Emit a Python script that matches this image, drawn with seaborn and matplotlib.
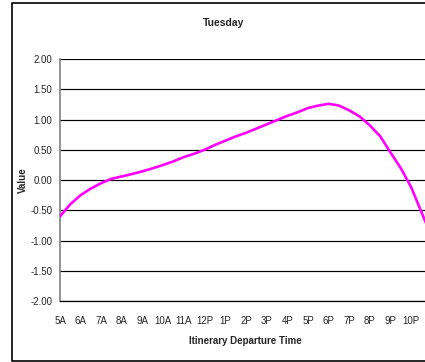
import matplotlib
matplotlib.use("Agg")
import matplotlib.pyplot as plt
from matplotlib.lines import Line2D
import seaborn as sns
import pandas as pd

# --- data (half-hour readings) ---
hours = [5.0, 5.5, 6.0, 6.5, 7.0, 7.5, 8.0, 8.5, 9.0, 9.5, 10.0, 10.5, 11.0, 11.5,
         12.0, 12.5, 13.0, 13.5, 14.0, 14.5, 15.0, 15.5, 16.0, 16.5, 17.0, 17.5,
         18.0, 18.5, 19.0, 19.5, 20.0, 20.5, 21.0, 21.5, 22.0, 22.5, 23.0]
values = [-0.60, -0.40, -0.25, -0.14, -0.05, 0.02, 0.06, 0.10, 0.145, 0.195, 0.25,
          0.31, 0.38, 0.435, 0.50, 0.58, 0.65, 0.72, 0.78, 0.85, 0.92, 0.99, 1.06,
          1.12, 1.19, 1.23, 1.26, 1.23, 1.15, 1.05, 0.90, 0.72, 0.45, 0.19, -0.125,
          -0.54, -0.95]
tick_hours = list(range(5, 23))
tick_labels = ["5A", "6A", "7A", "8A", "9A", "10A", "11A", "12P", "1P", "2P", "3P",
               "4P", "5P", "6P", "7P", "8P", "9P", "10P"]
y_ticks = [2.0, 1.5, 1.0, 0.5, 0.0, -0.5, -1.0, -1.5, -2.0]
title = "Tuesday"
x_title = "Itinerary Departure Time"
y_title = "Value"

sns.set_style("white")
plt.rcParams["font.family"] = ["Liberation Sans Narrow", "Liberation Sans", "DejaVu Sans"]

W, H = 425, 362
fig = plt.figure(figsize=(W / 100, H / 100), dpi=100)
fig.patch.set_facecolor("white")

# axes (plot area extends slightly past the right edge, as in the reference)
ax = fig.add_axes([60 / W, 1 - 301 / H, 372 / W, 242 / H])
df = pd.DataFrame({"hour": hours, "value": values})
sns.lineplot(data=df, x="hour", y="value", ax=ax, color="#FF00FF", lw=1.9, zorder=3)

ax.set_xlim(5, 23)
ax.set_ylim(-2.0, 2.0)
ax.set_yticks(y_ticks)
ax.set_yticklabels([f"{v:.2f}" for v in y_ticks])
ax.set_xticks(tick_hours)
ax.set_xticklabels(tick_labels)
ax.set_xlabel("")
ax.set_ylabel("")

for v in y_ticks:
    ax.axhline(v, color="black", lw=0.85, zorder=1)

for s in ["top", "right"]:
    ax.spines[s].set_visible(False)
ax.spines["left"].set_color("#808080")
ax.spines["left"].set_linewidth(1.2)
ax.spines["bottom"].set_color("black")
ax.spines["bottom"].set_linewidth(0.9)

ax.tick_params(axis="y", length=2.5, width=0.8, color="#808080", pad=3, labelsize=7)
ax.tick_params(axis="x", length=0, pad=11, labelsize=7)

fig.text(224 / W, 1 - 23 / H, title, ha="center", va="center", fontsize=7.5,
         fontweight="bold")
fig.text(245 / W, 1 - 341 / H, x_title, ha="center", va="center", fontsize=7,
         fontweight="bold")
fig.text(23 / W, 1 - 180 / H, y_title, ha="center", va="center", fontsize=7,
         fontweight="bold", rotation=90)

# chart-area border: left, top and bottom edges (right edge is cropped away)
bx0, by_top, by_bot = 11.5 / W, 1 - 2.5 / H, 1.5 / H
border = Line2D([1.05, bx0, bx0, 1.05], [by_top, by_top, by_bot, by_bot],
                transform=fig.transFigure, color="black", lw=1.2)
fig.lines.append(border)

fig.savefig("out.png", dpi=100)
